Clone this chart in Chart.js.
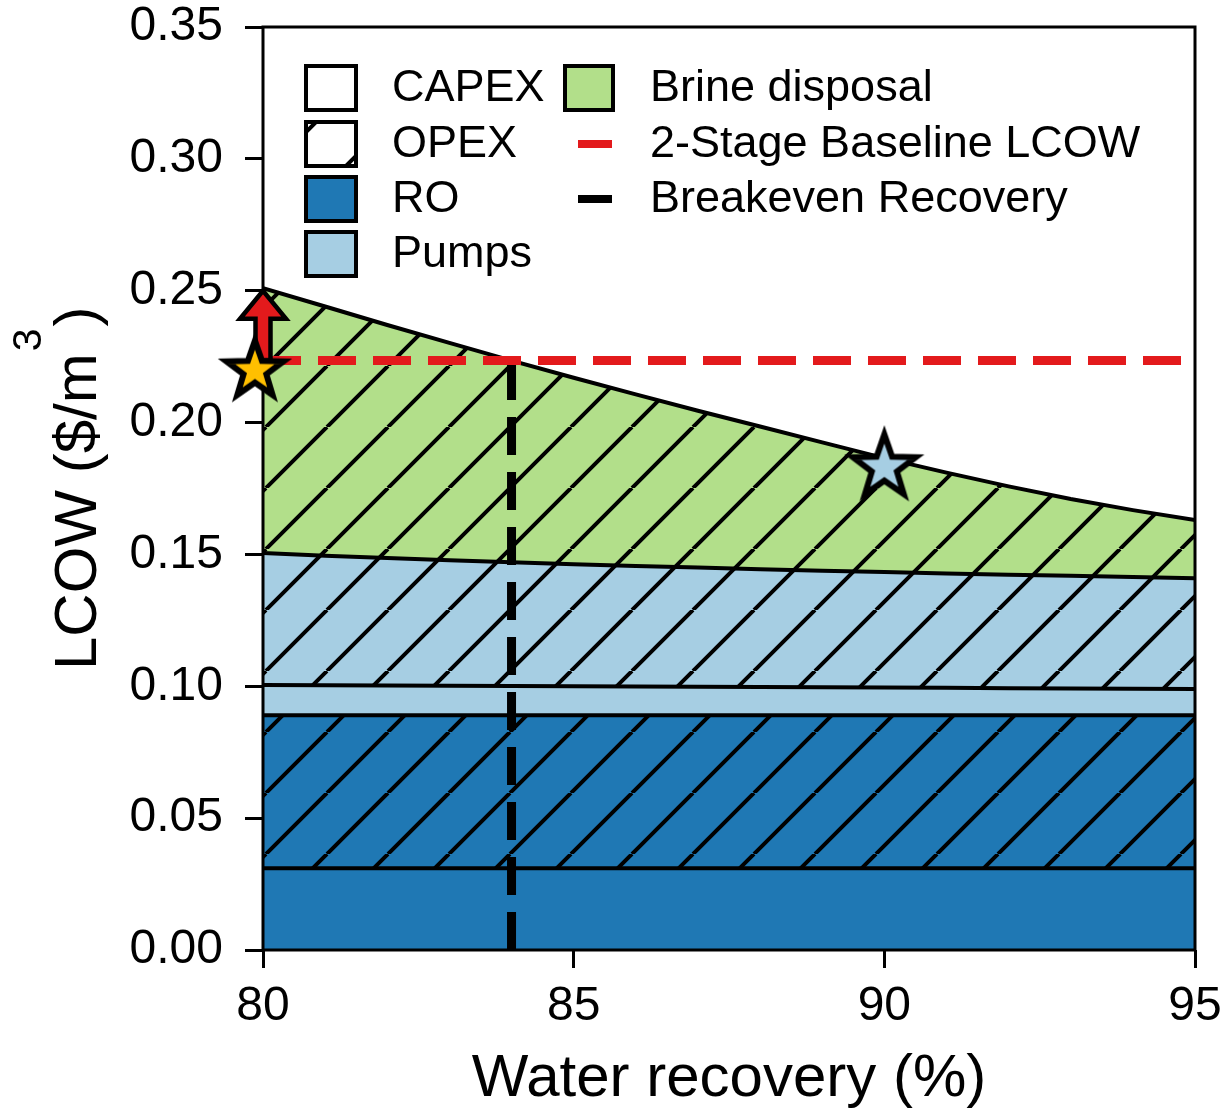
<!DOCTYPE html>
<html>
<head>
<meta charset="utf-8">
<script src="https://cdn.jsdelivr.net/npm/chart.js@4.4.0/dist/chart.umd.min.js"></script>
<style>
html,body{margin:0;padding:0;background:#fff;}
#wrap{position:relative;width:1228px;height:1115px;}
</style>
</head>
<body>
<div id="wrap"><canvas id="c" width="1228" height="1115"></canvas></div>
<script>
// ---------------- data ----------------
const recovery      = [80, 81, 82, 83, 84, 85, 86, 87, 88, 89, 90, 91, 92, 93, 94, 95];
const roCapex       = [0.031, 0.031, 0.031, 0.031, 0.031, 0.031, 0.031, 0.031, 0.031, 0.031, 0.031, 0.031, 0.031, 0.031, 0.031, 0.031];
const roOpex        = [0.058, 0.058, 0.058, 0.058, 0.058, 0.058, 0.058, 0.058, 0.058, 0.058, 0.058, 0.058, 0.058, 0.058, 0.058, 0.058];
const pumpsCapex    = [0.0115, 0.0114, 0.0113, 0.0112, 0.0111, 0.0110, 0.0109, 0.0108, 0.0107, 0.0106, 0.0105, 0.0104, 0.0103, 0.0102, 0.0101, 0.0100];
const pumpsOpex     = [0.0500, 0.0491, 0.0483, 0.0476, 0.0469, 0.0463, 0.0457, 0.0452, 0.0447, 0.0442, 0.0438, 0.0434, 0.0430, 0.0427, 0.0423, 0.0420];
const brineDisposal = [0.1005, 0.0945, 0.0884, 0.0824, 0.0765, 0.0707, 0.0651, 0.0595, 0.0541, 0.0487, 0.0432, 0.0382, 0.0335, 0.0291, 0.0254, 0.0220];

const baselineX = [80, 95];
const baselineY = [0.2235, 0.2235];       // 2-Stage Baseline LCOW
const breakevenX = [84, 84];
const breakevenY = [0, 0.2235];           // Breakeven Recovery
const arrowX = [80, 80];
const arrowY = [0.2235, 0.25];
const yellowStarX = [79.87];
const yellowStarY = [0.2197];
const blueStarX = [90];
const blueStarY = [0.183];

const xTickValues = [80, 85, 90, 95];
const xTickLabels = ['80', '85', '90', '95'];
const yTickLabels = ['0.00', '0.05', '0.10', '0.15', '0.20', '0.25', '0.30', '0.35'];

const legendCol1 = ['CAPEX', 'OPEX', 'RO', 'Pumps'];
const legendCol2 = ['Brine disposal', '2-Stage Baseline LCOW', 'Breakeven Recovery'];

// ---------------- styles ----------------
const FONT = "'Liberation Sans', Arial, Helvetica, sans-serif";
const C_RO = '#1f78b4', C_PUMP = '#a6cee3', C_BRINE = '#b2df8a', C_RED = '#e31a1c', C_YEL = '#ffbf00';

function hatch(bg, s, lw, off) {
  const c = document.createElement('canvas'); c.width = s; c.height = s;
  const g = c.getContext('2d');
  g.fillStyle = bg; g.fillRect(0, 0, s, s);
  g.strokeStyle = '#000'; g.lineWidth = lw;
  g.beginPath();
  for (let k = -1; k <= 1; k++) { g.moveTo(k * s, s); g.lineTo(k * s + s, 0); }
  g.stroke();
  const p = g.createPattern(c, 'repeat');
  p.setTransform(new DOMMatrix().translate(off, 0));
  return p;
}
function starCanvas(R, fill, lw) {
  const size = Math.ceil(2 * (R + lw * 2 + 2));
  const c = document.createElement('canvas'); c.width = size; c.height = size;
  const g = c.getContext('2d');
  const cx = size / 2, cy = size / 2;
  g.beginPath();
  for (let i = 0; i < 10; i++) {
    const r = i % 2 === 0 ? R : R * 0.40;
    const a = -Math.PI / 2 + i * Math.PI / 5;
    g.lineTo(cx + r * Math.cos(a), cy + r * Math.sin(a));
  }
  g.closePath();
  g.fillStyle = fill; g.fill();
  g.lineWidth = lw; g.lineJoin = 'miter'; g.miterLimit = 10; g.strokeStyle = '#000'; g.stroke();
  return c;
}

const H_RO = hatch(C_RO, 61, 4, 22);
const H_PUMP = hatch(C_PUMP, 61, 4, 22);
const H_BRINE = hatch(C_BRINE, 61, 4, 22);

const pts = (xs, ys) => xs.map((x, i) => ({x: x, y: ys[i]}));

function area(label, vals, bg, fill) {
  return {
    label: label, data: pts(recovery, vals), yAxisID: 'y', order: 10,
    backgroundColor: bg, borderColor: '#000', borderWidth: 4,
    fill: fill, pointRadius: 0, tension: 0
  };
}

const YEL_IDX = 7;
const datasets = [
  area('RO CAPEX', roCapex, C_RO, 'origin'),
  area('RO OPEX', roOpex, H_RO, '-1'),
  area('Pumps CAPEX', pumpsCapex, C_PUMP, '-1'),
  area('Pumps OPEX', pumpsOpex, H_PUMP, '-1'),
  area('Brine disposal', brineDisposal, H_BRINE, '-1'),
  { label: '2-Stage Baseline LCOW', data: pts(baselineX, baselineY), yAxisID: 'yA', order: 5,
    borderColor: C_RED, borderWidth: 9, borderDash: [38, 17], borderCapStyle: 'butt',
    pointRadius: 0, fill: false, clip: false },
  { label: 'Breakeven Recovery', data: pts(breakevenX, breakevenY), yAxisID: 'yA', order: 5,
    borderColor: '#000', borderWidth: 9, borderDash: [38, 17], borderCapStyle: 'butt',
    pointRadius: 0, fill: false, clip: false },
  { label: 'Current', data: pts(yellowStarX, yellowStarY), yAxisID: 'yA', order: 1, showLine: false,
    pointStyle: starCanvas(30, C_YEL, 6), pointRadius: 34, fill: false, clip: false },
  { label: 'Optimum', data: pts(blueStarX, blueStarY), yAxisID: 'yA', order: 1, showLine: false,
    pointStyle: starCanvas(33, C_PUMP, 6), pointRadius: 40, fill: false, clip: false }
];

const overlay = {
  id: 'overlay',
  beforeDatasetDraw(chart, args) {
    if (args.index !== YEL_IDX) return;
    const ctx = chart.ctx, a = chart.chartArea;
    ctx.save();
    ctx.strokeStyle = '#000'; ctx.lineWidth = 3;
    ctx.strokeRect(a.left, a.top, a.right - a.left, a.bottom - a.top);
    const xs = chart.scales.x, ys = chart.scales.y;
    const px = xs.getPixelForValue(arrowX[0]);
    const y0 = ys.getPixelForValue(arrowY[0]), y1 = ys.getPixelForValue(arrowY[1]);
    const sw = 7.5, hw = 23, hl = 28;
    ctx.beginPath();
    ctx.moveTo(px - sw, y0); ctx.lineTo(px - sw, y1 + hl); ctx.lineTo(px - hw, y1 + hl);
    ctx.lineTo(px, y1); ctx.lineTo(px + hw, y1 + hl); ctx.lineTo(px + sw, y1 + hl);
    ctx.lineTo(px + sw, y0); ctx.closePath();
    ctx.fillStyle = C_RED; ctx.fill();
    ctx.lineWidth = 4.5; ctx.lineJoin = 'miter'; ctx.strokeStyle = '#000'; ctx.stroke();
    ctx.restore();
  },
  afterDraw(chart) {
    const ctx = chart.ctx;
    ctx.save();
    ctx.fillStyle = '#000';
    ctx.translate(96, 670); ctx.rotate(-Math.PI / 2);
    ctx.textAlign = 'left'; ctx.textBaseline = 'alphabetic';
    ctx.font = '60px ' + FONT;
    const t1 = 'LCOW ($/m';
    ctx.fillText(t1, 0, 0);
    const w1 = ctx.measureText(t1).width;
    ctx.font = '41px ' + FONT;
    ctx.fillText('3', w1 + 2, -55);
    const w3 = ctx.measureText('3').width;
    ctx.font = '60px ' + FONT;
    ctx.fillText(')', w1 + w3 + 4, 0);
    ctx.restore();

    ctx.save();
    ctx.font = '45px ' + FONT;
    ctx.textBaseline = 'middle'; ctx.textAlign = 'left'; ctx.fillStyle = '#000';
    const rows = [88, 144, 199, 254];
    const fills1 = ['#ffffff', '#ffffff', C_RO, C_PUMP];
    legendCol1.forEach((t, i) => {
      const y = rows[i];
      ctx.fillStyle = fills1[i];
      ctx.fillRect(306, y - 22, 50, 44);
      if (i === 1) {
        ctx.save();
        ctx.beginPath(); ctx.rect(306, y - 22, 50, 44); ctx.clip();
        ctx.lineWidth = 4; ctx.strokeStyle = '#000'; ctx.beginPath();
        ctx.moveTo(306, y - 22 + 10); ctx.lineTo(316, y - 22);
        ctx.moveTo(346, y + 22); ctx.lineTo(356, y + 22 - 10);
        ctx.stroke();
        ctx.restore();
      }
      ctx.lineWidth = 4; ctx.strokeStyle = '#000';
      ctx.strokeRect(306, y - 22, 50, 44);
      ctx.fillStyle = '#000';
      ctx.fillText(t, 392, y + 1);
    });
    ctx.fillStyle = C_BRINE; ctx.fillRect(565, rows[0] - 22, 48, 44);
    ctx.lineWidth = 4; ctx.strokeStyle = '#000'; ctx.strokeRect(565, rows[0] - 22, 48, 44);
    ctx.lineWidth = 8;
    ctx.strokeStyle = C_RED; ctx.beginPath(); ctx.moveTo(578, rows[1]); ctx.lineTo(612, rows[1]); ctx.stroke();
    ctx.strokeStyle = '#000'; ctx.beginPath(); ctx.moveTo(578, rows[2]); ctx.lineTo(612, rows[2]); ctx.stroke();
    ctx.fillStyle = '#000';
    legendCol2.forEach((t, i) => ctx.fillText(t, 650, rows[i] + 1));
    ctx.restore();
  }
};

const tickFont = { family: FONT, size: 48 };
new Chart(document.getElementById('c'), {
  type: 'line',
  data: { datasets: datasets },
  options: {
    responsive: false, animation: false, devicePixelRatio: 1,
    layout: { autoPadding: false, padding: { left: 0, right: 33, top: 27, bottom: 0 } },
    plugins: { legend: { display: false }, tooltip: { enabled: false } },
    scales: {
      x: {
        type: 'linear', min: 80, max: 95,
        afterFit(s) { s.height = 165; s.paddingLeft = 0; s.paddingRight = 0; },
        grid: { drawOnChartArea: false, drawTicks: true, tickLength: 18, tickWidth: 3, tickColor: '#000', color: '#000' },
        border: { display: false },
        ticks: { stepSize: 5, color: '#000', font: tickFont, padding: 10, maxRotation: 0,
          callback: (v) => { const i = xTickValues.indexOf(v); return i >= 0 ? xTickLabels[i] : ''; } },
        title: { display: true, text: 'Water recovery (%)', color: '#000', font: { family: FONT, size: 60 }, padding: { top: 0, bottom: 0 } }
      },
      y: {
        type: 'linear', min: 0, max: 0.35, stacked: true,
        afterFit(s) { s.width = 263; s.paddingTop = 0; s.paddingBottom = 0; },
        grid: { drawOnChartArea: false, drawTicks: true, tickLength: 18, tickWidth: 3, tickColor: '#000', color: '#000' },
        border: { display: false },
        ticks: { stepSize: 0.05, color: '#000', font: tickFont, padding: 22,
          callback: (v) => yTickLabels[Math.round(v / 0.05)] }
      },
      yA: { type: 'linear', min: 0, max: 0.35, display: false, stacked: false }
    }
  },
  plugins: [overlay]
});
</script>
</body>
</html>
